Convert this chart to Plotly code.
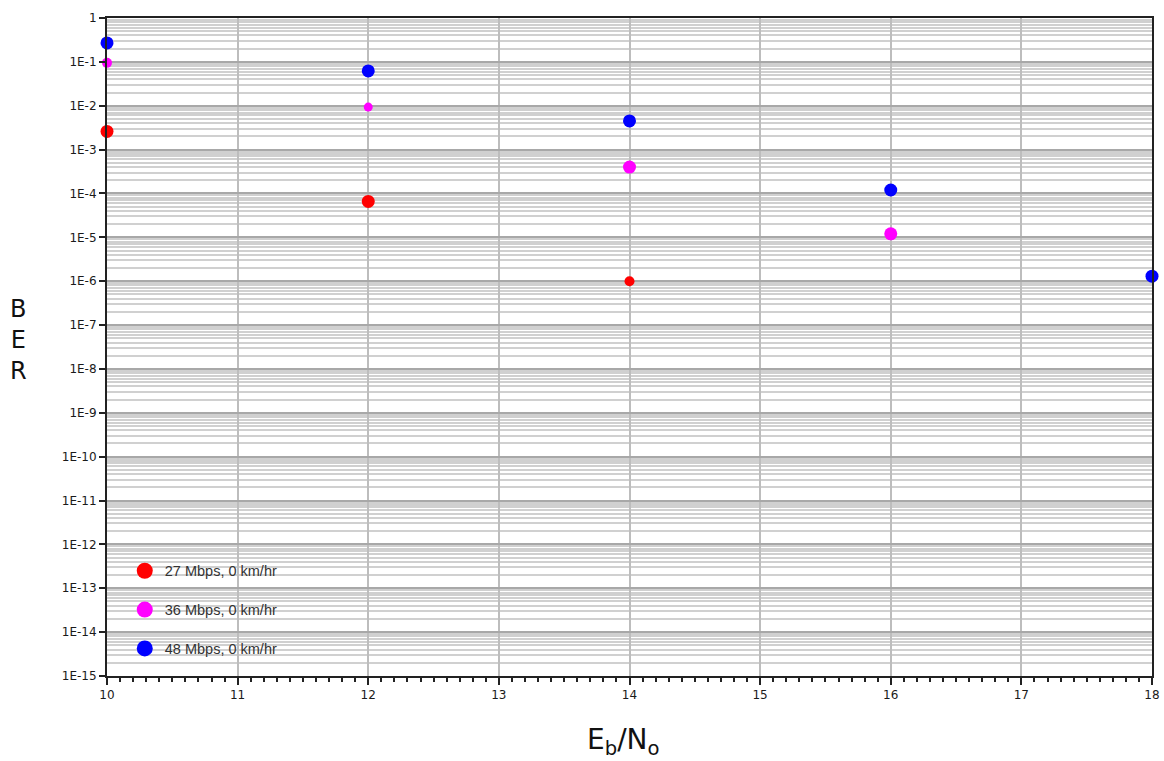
import plotly.graph_objects as go

# Eb/No (dB) sample points and measured bit error rates
ebno_27 = [10, 12, 14]
ber_27 = [2.6e-3, 6.6e-5, 1.0e-6]

ebno_36 = [10, 12, 14, 16]
ber_36 = [9.5e-2, 9.3e-3, 4.0e-4, 1.2e-5]

ebno_48 = [10, 12, 14, 16, 18]
ber_48 = [2.7e-1, 6.2e-2, 4.5e-3, 1.2e-4, 1.3e-6]

series_names = ["27 Mbps, 0 km/hr", "36 Mbps, 0 km/hr", "48 Mbps, 0 km/hr"]

# y-axis decade ticks
decade_exponents = list(range(0, -16, -1))
y_tick_labels = ["1"] + [f"1E{e}" for e in decade_exponents[1:]]
x_tick_values = list(range(10, 19))

colors = ["#ff0000", "#ff00ff", "#0000ff"]
point_sizes = [[13, 13, 10], [10, 9, 13, 13], [13, 13, 13, 13, 13]]

tick_font = dict(size=12, color="#1a1a1a", family="DejaVu Sans, Verdana, sans-serif")

fig = go.Figure()
datasets = [(ebno_27, ber_27), (ebno_36, ber_36), (ebno_48, ber_48)]
for i, (xs, ys) in enumerate(datasets):
    fig.add_trace(go.Scatter(
        x=xs, y=ys, mode="markers", showlegend=False, cliponaxis=False,
        marker=dict(color=colors[i], size=point_sizes[i], opacity=1,
                    line=dict(width=0)),
        legendgroup=f"g{i}",
    ))
for i, name in enumerate(series_names):
    # legend entry with a larger symbol
    fig.add_trace(go.Scatter(
        x=[None], y=[None], mode="markers", name=name,
        marker=dict(color=colors[i], size=16, opacity=1, line=dict(width=0)),
        legendgroup=f"g{i}",
    ))

fig.update_layout(
    width=1164, height=761,
    margin=dict(l=107, r=12, t=18, b=85, autoexpand=False),
    paper_bgcolor="white", plot_bgcolor="white",
    font=dict(family="Liberation Sans, Arial, sans-serif", color="#222", size=11),
    legend=dict(
        x=0.017, y=0.017, xanchor="left", yanchor="bottom",
        bgcolor="rgba(0,0,0,0)", borderwidth=0,
        font=dict(size=14.5, color="#333", family="Liberation Sans, Arial, sans-serif"),
        traceorder="grouped", tracegroupgap=17, itemsizing="trace",
    ),
    xaxis=dict(
        range=[10, 18], tickvals=x_tick_values, automargin=False,
        showgrid=True, gridcolor="#bdbdbd", gridwidth=1.5,
        showline=True, linecolor="#222", linewidth=2, mirror=True,
        ticks="outside", ticklen=7, tickcolor="#222", tickwidth=1.5,
        minor=dict(dtick=0.1, ticks="outside", ticklen=4, tickcolor="#222",
                   tickwidth=1.5, showgrid=False),
        zeroline=False,
        tickfont=tick_font,
    ),
    yaxis=dict(
        type="log", range=[-15, 0], automargin=False,
        tickvals=[10.0 ** e for e in decade_exponents], ticktext=y_tick_labels,
        showgrid=True, gridcolor="#a8a8a8", gridwidth=1.5,
        showline=True, linecolor="#222", linewidth=2, mirror=True,
        ticks="outside", ticklen=6, tickcolor="#222", tickwidth=1.5,
        minor=dict(dtick="D1", showgrid=True, gridcolor="#d0d0d0",
                   gridwidth=1.5, ticks=""),
        zeroline=False,
        tickfont=tick_font,
    ),
    annotations=[
        dict(text="B<br>E<br>R", xref="paper", yref="paper", x=-0.085, y=0.51,
             xanchor="center", yanchor="middle", showarrow=False, align="center",
             font=dict(size=24, color="#111", family="DejaVu Sans, Verdana, sans-serif")),
        dict(text="E<sub>b</sub>/N<sub>o</sub>", xref="paper", yref="paper",
             x=0.494, y=-0.1, xanchor="center", yanchor="middle", showarrow=False,
             font=dict(size=28, color="#111", family="DejaVu Sans, Verdana, sans-serif")),
    ],
)

fig.write_html("out.html")
